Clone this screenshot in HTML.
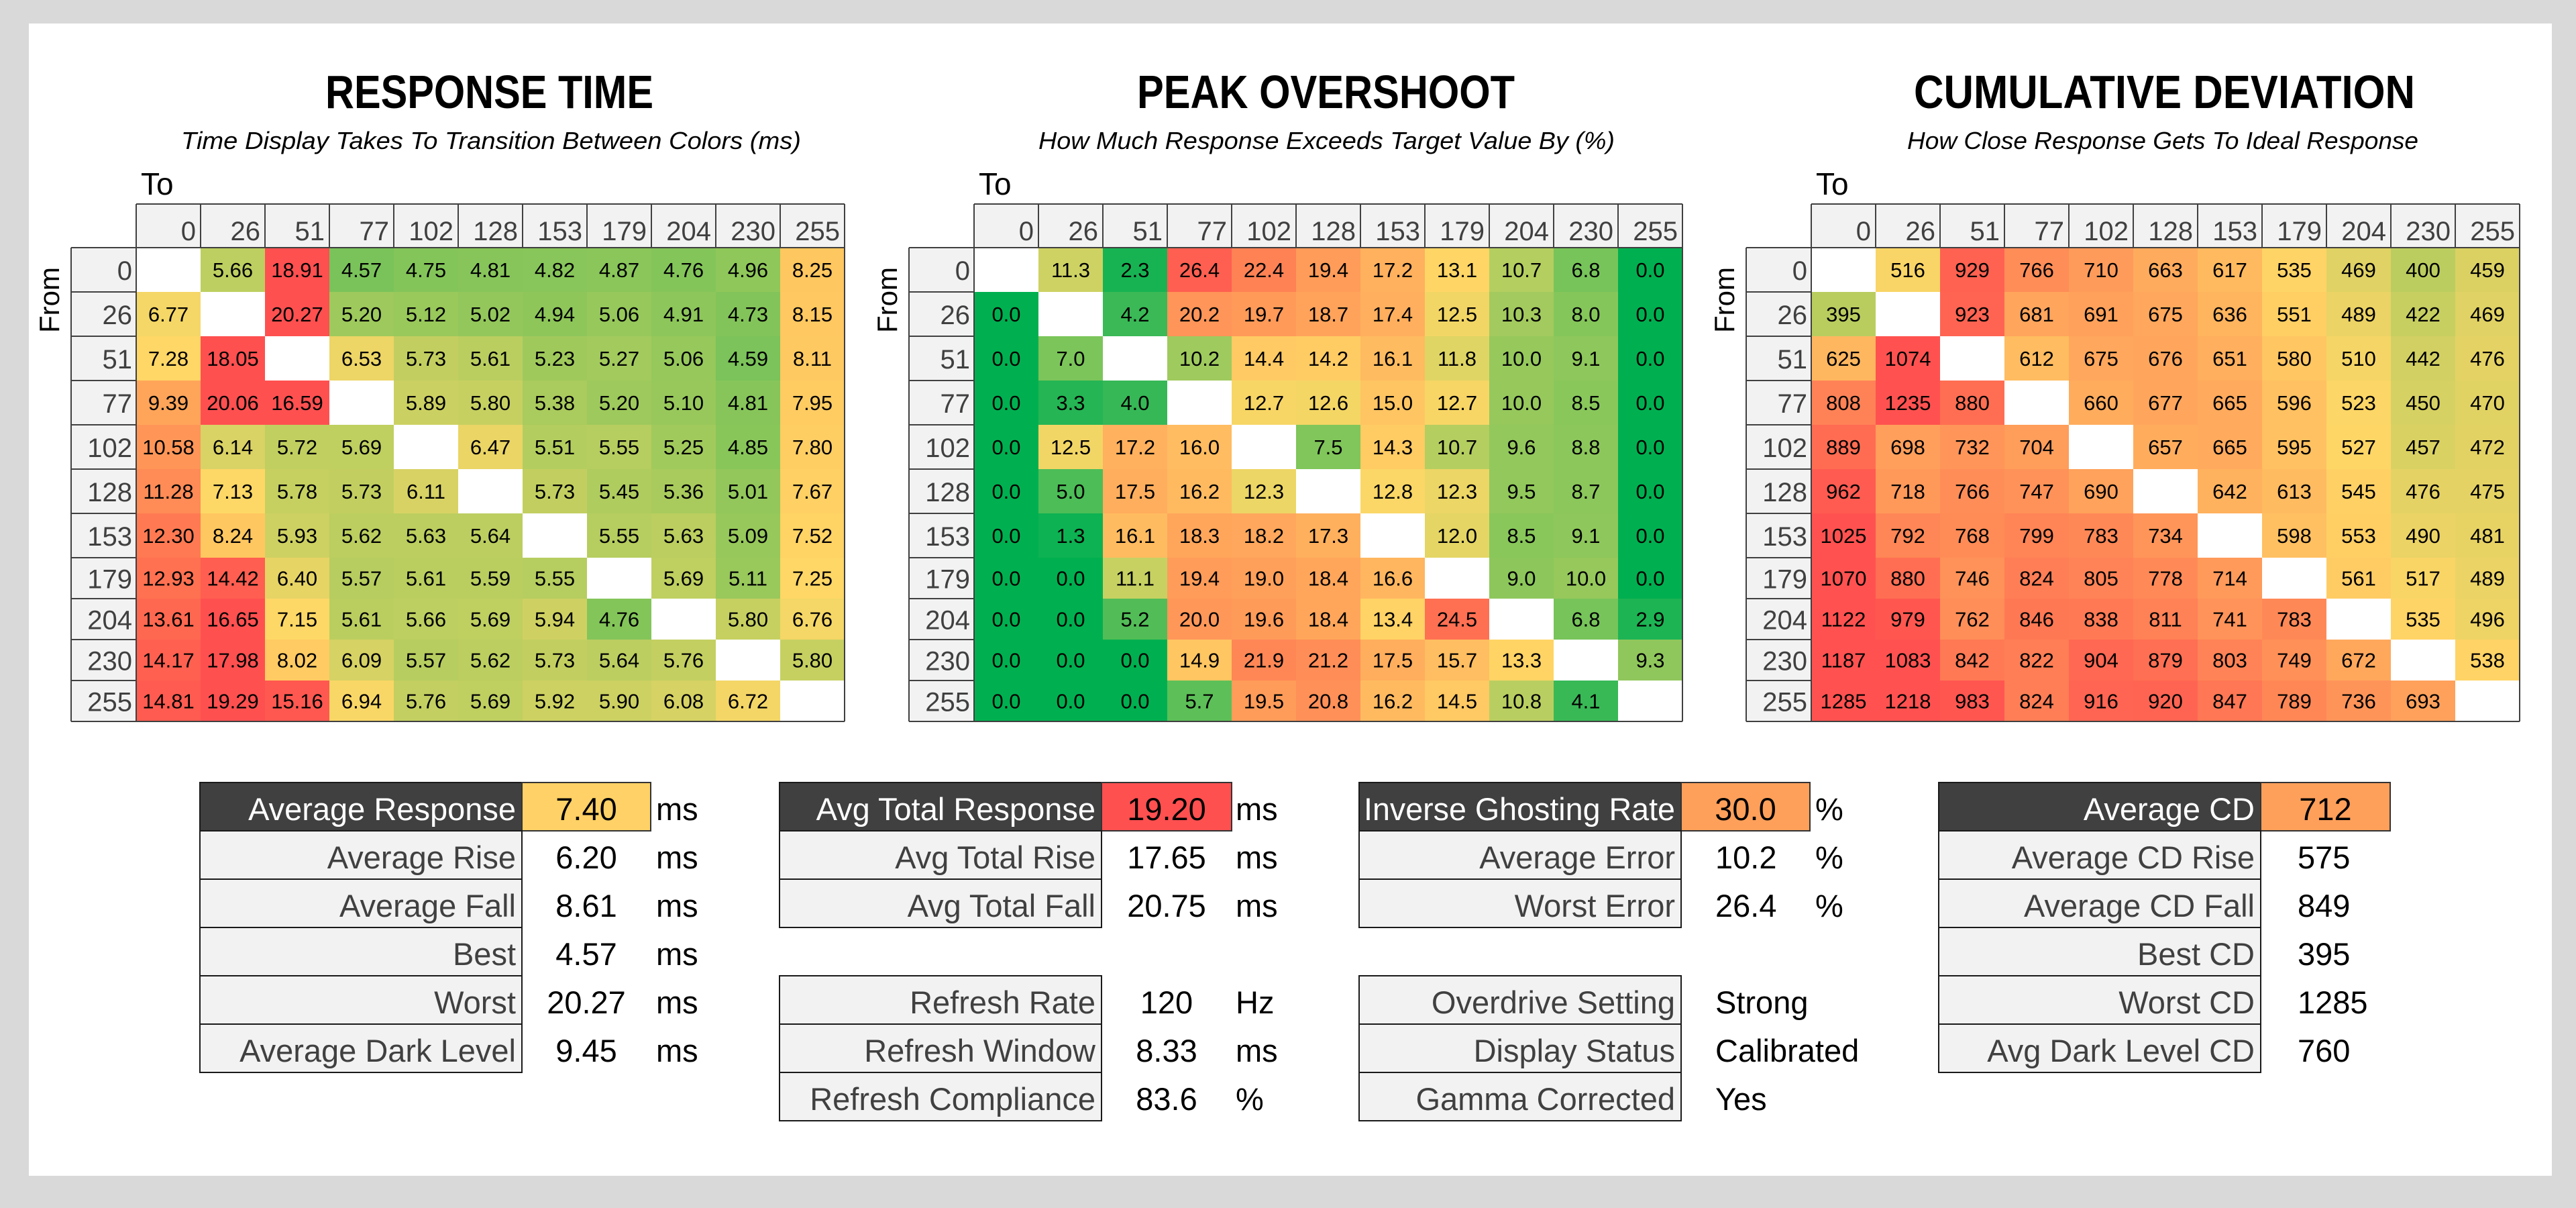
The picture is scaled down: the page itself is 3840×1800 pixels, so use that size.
<!DOCTYPE html>
<html><head><meta charset="utf-8"><style>
html,body{margin:0;padding:0;background:#d9d9d9;}
svg{display:block;}
</style></head><body>
<svg id="s" xmlns="http://www.w3.org/2000/svg" width="3840" height="1800" viewBox="0 0 3840 1800" font-family="Liberation Sans, sans-serif">
<rect x="0" y="0" width="3840" height="1800" fill="#d9d9d9"/>
<rect x="43" y="35" width="3761" height="1717" fill="#ffffff"/>
<g id="g"></g>
</svg>
<script>
var NS="http://www.w3.org/2000/svg",G=document.getElementById('g');
function el(t,a,txt){var e=document.createElementNS(NS,t);for(var k in a)e.setAttribute(k,a[k]);if(txt!==undefined)e.textContent=txt;G.appendChild(e);return e;}
function lerp(st,v){if(v<=st[0][0])return st[0][1];for(var i=1;i<st.length;i++){if(v<=st[i][0]){var a=st[i-1],b=st[i],t=(v-a[0])/(b[0]-a[0]);return [0,1,2].map(function(j){return Math.round(a[1][j]+(b[1][j]-a[1][j])*t)});}}return st[st.length-1][1];}
var hdr=["0","26","51","77","102","128","153","179","204","230","255"];
var rows=[369,435,501,567,633,699,765,831,892,953,1014,1075];
var D1=[
"_,5.66,18.91,4.57,4.75,4.81,4.82,4.87,4.76,4.96,8.25",
"6.77,_,20.27,5.20,5.12,5.02,4.94,5.06,4.91,4.73,8.15",
"7.28,18.05,_,6.53,5.73,5.61,5.23,5.27,5.06,4.59,8.11",
"9.39,20.06,16.59,_,5.89,5.80,5.38,5.20,5.10,4.81,7.95",
"10.58,6.14,5.72,5.69,_,6.47,5.51,5.55,5.25,4.85,7.80",
"11.28,7.13,5.78,5.73,6.11,_,5.73,5.45,5.36,5.01,7.67",
"12.30,8.24,5.93,5.62,5.63,5.64,_,5.55,5.63,5.09,7.52",
"12.93,14.42,6.40,5.57,5.61,5.59,5.55,_,5.69,5.11,7.25",
"13.61,16.65,7.15,5.61,5.66,5.69,5.94,4.76,_,5.80,6.76",
"14.17,17.98,8.02,6.09,5.57,5.62,5.73,5.64,5.76,_,5.80",
"14.81,19.29,15.16,6.94,5.76,5.69,5.92,5.90,6.08,6.72,_"];
var D2=[
"_,11.3,2.3,26.4,22.4,19.4,17.2,13.1,10.7,6.8,0.0",
"0.0,_,4.2,20.2,19.7,18.7,17.4,12.5,10.3,8.0,0.0",
"0.0,7.0,_,10.2,14.4,14.2,16.1,11.8,10.0,9.1,0.0",
"0.0,3.3,4.0,_,12.7,12.6,15.0,12.7,10.0,8.5,0.0",
"0.0,12.5,17.2,16.0,_,7.5,14.3,10.7,9.6,8.8,0.0",
"0.0,5.0,17.5,16.2,12.3,_,12.8,12.3,9.5,8.7,0.0",
"0.0,1.3,16.1,18.3,18.2,17.3,_,12.0,8.5,9.1,0.0",
"0.0,0.0,11.1,19.4,19.0,18.4,16.6,_,9.0,10.0,0.0",
"0.0,0.0,5.2,20.0,19.6,18.4,13.4,24.5,_,6.8,2.9",
"0.0,0.0,0.0,14.9,21.9,21.2,17.5,15.7,13.3,_,9.3",
"0.0,0.0,0.0,5.7,19.5,20.8,16.2,14.5,10.8,4.1,_"];
var D3=[
"_,516,929,766,710,663,617,535,469,400,459",
"395,_,923,681,691,675,636,551,489,422,469",
"625,1074,_,612,675,676,651,580,510,442,476",
"808,1235,880,_,660,677,665,596,523,450,470",
"889,698,732,704,_,657,665,595,527,457,472",
"962,718,766,747,690,_,642,613,545,476,475",
"1025,792,768,799,783,734,_,598,553,490,481",
"1070,880,746,824,805,778,714,_,561,517,489",
"1122,979,762,846,838,811,741,783,_,535,496",
"1187,1083,842,822,904,879,803,749,672,_,538",
"1285,1218,983,824,916,920,847,789,736,693,_"];
var S1=[[4.57,[122,195,90]],[4.9,[140,198,90]],[5.2,[158,201,92]],[5.7,[192,207,96]],[6.1,[215,210,100]],[6.6,[240,214,102]],[7.2,[255,216,102]],[8.3,[255,198,96]],[9.4,[255,165,90]],[10.6,[255,150,88]],[12.3,[255,122,82]],[14,[255,98,80]],[16,[255,80,80]]];
var S2=[[0,[0,176,80]],[3,[30,180,84]],[7,[124,197,90]],[10,[150,200,92]],[11.5,[215,212,100]],[13,[255,215,102]],[19,[255,160,90]],[26.4,[255,95,80]]];
var S3=[[395,[185,205,95]],[470,[225,210,100]],[530,[255,214,102]],[620,[255,185,95]],[710,[255,155,90]],[800,[255,132,86]],[900,[255,105,82]],[1000,[255,82,80]]];
function grid(off,D,S){
  var L=106+off,X0=203+off,W=96,R=X0+11*W;
  el('text',{x:210+off,y:290,'font-size':46,fill:'#000'},'To');
  el('text',{x:0,y:0,'font-size':42,fill:'#000',transform:'translate('+(102+off-14)+',447) rotate(-90)','text-anchor':'middle'},'From');
  el('rect',{x:X0,y:304,width:11*W,height:65,fill:'#f2f2f2'});
  el('rect',{x:L,y:369,width:X0-L,height:706,fill:'#f2f2f2'});
  for(var c=0;c<11;c++){
    el('text',{x:X0+(c+1)*W-7,y:358,'font-size':40,fill:'#404040','text-anchor':'end'},hdr[c]);
  }
  for(var r=0;r<11;r++){
    var y0=rows[r],h=rows[r+1]-rows[r],vals=D[r].split(',');
    el('text',{x:X0-6,y:y0+h/2+15,'font-size':40,fill:'#404040','text-anchor':'end'},hdr[r]);
    for(var c=0;c<11;c++){
      var v=vals[c];if(v==='_')continue;
      var col=lerp(S,parseFloat(v));
      el('rect',{x:X0+c*W,y:y0,width:W,height:h,fill:'rgb('+col.join(',')+')'});
      el('text',{x:X0+c*W+W/2,y:y0+h/2+11,'font-size':31,fill:'#000','text-anchor':'middle'},v);
    }
  }
  var sc='#404040';
  el('line',{x1:X0,y1:304,x2:R,y2:304,stroke:sc,'stroke-width':2});
  for(var c=0;c<=11;c++)el('line',{x1:X0+c*W,y1:304,x2:X0+c*W,y2:369,stroke:sc,'stroke-width':2});
  el('line',{x1:L,y1:369,x2:R,y2:369,stroke:sc,'stroke-width':2});
  for(var r=1;r<=11;r++)el('line',{x1:L,y1:rows[r],x2:X0,y2:rows[r],stroke:sc,'stroke-width':2});
  el('line',{x1:L,y1:369,x2:L,y2:1075,stroke:sc,'stroke-width':2});
  el('line',{x1:X0,y1:369,x2:X0,y2:1075,stroke:sc,'stroke-width':2});
  el('line',{x1:R,y1:304,x2:R,y2:1075,stroke:sc,'stroke-width':2});
  el('line',{x1:X0,y1:1075,x2:R,y2:1075,stroke:sc,'stroke-width':2});
}
grid(0,D1,S1);grid(1249,D2,S2);grid(2497,D3,S3);
function title(x1,x2,t,sx1,sx2,st){
  el('text',{x:x1,y:161,'font-size':70,'font-weight':'bold',fill:'#000',textLength:x2-x1,lengthAdjust:'spacingAndGlyphs'},t);
  el('text',{x:sx1,y:222,'font-size':36,'font-style':'italic',fill:'#000',textLength:sx2-sx1,lengthAdjust:'spacingAndGlyphs'},st);
}
title(485,974,'RESPONSE TIME',270,1194,'Time Display Takes To Transition Between Colors (ms)');
title(1695,2258,'PEAK OVERSHOOT',1548,2407,'How Much Response Exceeds Target Value By (%)');
title(2853,3600,'CUMULATIVE DEVIATION',2843,3605,'How Close Response Gets To Ideal Response');
// tables
function lab(x,lr,y,t,head){
  var e=el('text',{x:lr-9,y:y+56,'font-size':47,fill:head?'#ffffff':'#404040','text-anchor':'end'},t);
  var w=e.getComputedTextLength(),mx=lr-x-16;
  if(w>mx){e.setAttribute('textLength',mx);e.setAttribute('lengthAdjust','spacingAndGlyphs');}
}
function table(x,lr,vr,rowsArr,hcol,align,vx,unitX){
  // rowsArr: [y,label,value,unit]
  rowsArr.forEach(function(r,i){
    var y=r[0],head=(i===0&&hcol);
    el('rect',{x:x,y:y,width:lr-x,height:72,fill:head?'#404040':'#f2f2f2',stroke:'#1a1a1a','stroke-width':2});
    if(head)el('rect',{x:lr,y:y,width:vr-lr,height:72,fill:hcol,stroke:'#333','stroke-width':2});
    lab(x,lr,y,r[1],head);
    var a=(head||align==='c')?{x:(lr+vr)/2,'text-anchor':'middle'}:{x:vx,'text-anchor':'start'};
    a.y=y+56;a['font-size']=47;a.fill='#000';
    el('text',a,r[2]);
    if(r[3])el('text',{x:unitX,y:y+56,'font-size':47,fill:'#000'},r[3]);
  });
}
var Y=[1166,1238,1310,1382,1454,1526,1598,1670];
table(298,778,970,[[Y[0],'Average Response','7.40','ms'],[Y[1],'Average Rise','6.20','ms'],[Y[2],'Average Fall','8.61','ms'],[Y[3],'Best','4.57','ms'],[Y[4],'Worst','20.27','ms'],[Y[5],'Average Dark Level','9.45','ms']],'#ffd166','c',0,978);
table(1162,1642,1836,[[Y[0],'Avg Total Response','19.20','ms'],[Y[1],'Avg Total Rise','17.65','ms'],[Y[2],'Avg Total Fall','20.75','ms']],'#ff5050','c',0,1842);
table(1162,1642,1836,[[Y[4],'Refresh Rate','120','Hz'],[Y[5],'Refresh Window','8.33','ms'],[Y[6],'Refresh Compliance','83.6','%']],null,'c',0,1842);
table(2026,2506,2698,[[Y[0],'Inverse Ghosting Rate','30.0','%'],[Y[1],'Average Error','10.2','%'],[Y[2],'Worst Error','26.4','%']],'#ffa05a','l',2557,2706);
table(2026,2506,2698,[[Y[4],'Overdrive Setting','Strong'],[Y[5],'Display Status','Calibrated'],[Y[6],'Gamma Corrected','Yes']],null,'l',2557,0);
table(2890,3370,3563,[[Y[0],'Average CD','712'],[Y[1],'Average CD Rise','575'],[Y[2],'Average CD Fall','849'],[Y[3],'Best CD','395'],[Y[4],'Worst CD','1285'],[Y[5],'Avg Dark Level CD','760']],'#ffa05a','l',3425,0);
</script>
</body></html>
